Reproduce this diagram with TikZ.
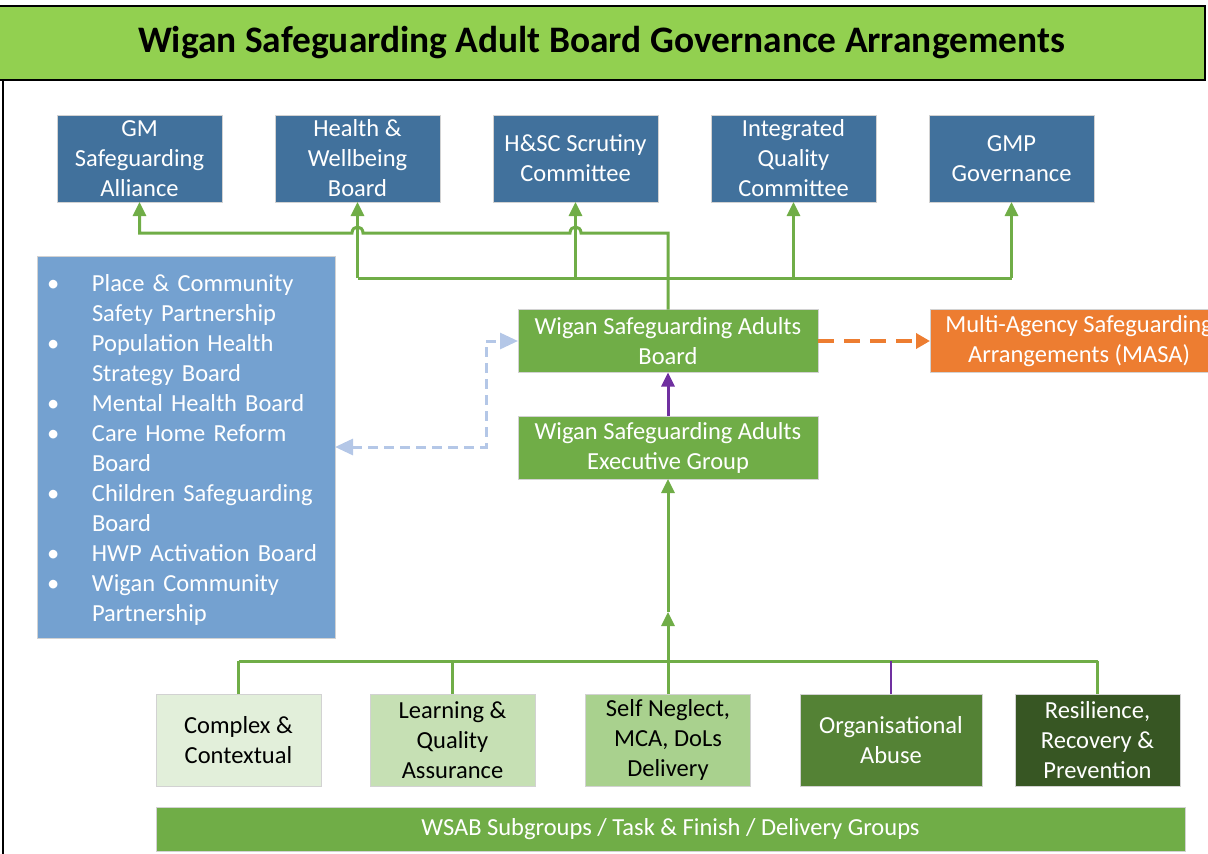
\documentclass[tikz,border=0pt]{standalone}
\usepackage{fontspec}
\setmainfont{Carlito}
\usetikzlibrary{positioning,arrows.meta}
\definecolor{titlegreen}{HTML}{92D050}
\definecolor{govblue}{HTML}{41719C}
\definecolor{listblue}{HTML}{74A1D0}
\definecolor{govgreen}{HTML}{70AD47}
\definecolor{govorange}{HTML}{ED7D31}
\definecolor{govpurple}{HTML}{7030A0}
\definecolor{linkblue}{HTML}{B4C7E7}
\definecolor{subA}{HTML}{E2EFDA}
\definecolor{subB}{HTML}{C6E0B4}
\definecolor{subC}{HTML}{A9D18E}
\definecolor{subD}{HTML}{548235}
\definecolor{subE}{HTML}{375623}
\tikzset{
    govtitle/.style={draw=black, line width=2.5pt, fill=titlegreen, minimum width=1207pt, minimum height=74pt, inner sep=0pt, font=\fontsize{37.4}{44}\selectfont\bfseries},
    govbox/.style={draw=gray!35, line width=0.8pt, align=center, inner sep=0pt, outer sep=0pt, font=\fontsize{24.5}{30}\selectfont},
    govtop/.style={govbox, fill=govblue, text=white, minimum width=165pt, minimum height=87pt},
    govboard/.style={govbox, fill=govgreen, text=white, minimum width=300pt, minimum height=63pt},
    govmasa/.style={govbox, fill=govorange, text=white, minimum width=298pt, minimum height=63pt},
    govlist/.style={govbox, fill=listblue, text=white, align=left, text width=278pt, inner xsep=10pt, minimum height=382pt},
    govsub/.style={govbox, minimum width=165pt, minimum height=92pt},
    govbar/.style={govbox, fill=govgreen, text=white, minimum width=1029pt, minimum height=44pt},
    govline/.style={draw=govgreen, line width=3pt},
    govarrow/.style={govline, -{Triangle[length=14pt,width=13pt]}},
    govup/.style={draw=govpurple, line width=3pt, -{Triangle[length=14pt,width=13pt]}},
    govlink/.style={draw=linkblue, line width=3pt, dash pattern=on 10pt off 6pt, {Triangle[length=18pt,width=16pt]}-{Triangle[length=18pt,width=16pt]}},
    govdash/.style={draw=govorange, line width=4pt, dash pattern=on 16pt off 10pt, -{Triangle[length=14pt,width=15pt]}}
}

\begin{document}
\begin{tikzpicture}[x=1pt, y=-1pt]
    \clip (0,0) rectangle (1208,854);

    \node[govtitle] (title) at (601.5,43) {Wigan Safeguarding Adult Board Governance Arrangements};
    \draw[line width=1.5pt] (3,80) -- (3,856);

    % bodies the board reports to
    \node[govtop] (gm) at (139.5,158.5) {GM\\Safeguarding\\Alliance};
    \node[govtop, right=53pt of gm] (hwb) {Health \&\\Wellbeing\\Board};
    \node[govtop, right=53pt of hwb] (hsc) {H\&SC Scrutiny\\Committee};
    \node[govtop, right=53pt of hsc] (iqc) {Integrated\\Quality\\Committee};
    \node[govtop, right=53pt of iqc] (gmp) {GMP\\Governance};

    \node[govlist] (list) at (186,447) {%
        \vspace*{6pt}
        \begin{tabular}{@{}p{45pt}@{}l@{}}
            \textbullet & Place \& Community\\
                        & Safety Partnership\\
            \textbullet & Population Health\\
                        & Strategy Board\\
            \textbullet & Mental Health Board\\
            \textbullet & Care Home Reform\\
                        & Board\\
            \textbullet & Children Safeguarding\\
                        & Board\\
            \textbullet & HWP Activation Board\\
            \textbullet & Wigan Community\\
                        & Partnership
        \end{tabular}};

    \node[govboard] (wsab) at (668,341) {Wigan Safeguarding Adults\\Board};
    \node[govboard] (exec) at (668,447.5) {Wigan Safeguarding Adults\\Executive Group};
    \node[govmasa] (masa) at (1079,341) {Multi-Agency Safeguarding\\Arrangements (MASA)};

    % subgroups
    \node[govsub, fill=subA] (cc) at (238.5,740) {Complex \&\\Contextual};
    \node[govsub, fill=subB] (lqa) at (452.5,740) {Learning \&\\Quality\\Assurance};
    \node[govsub, fill=subC] (snd) at (668,740) {Self Neglect,\\MCA, DoLs\\Delivery};
    \node[govsub, fill=subD, text=white, minimum width=182pt] (oa) at (891,740) {Organisational\\Abuse};
    \node[govsub, fill=subE, text=white] (rrp) at (1097.5,740) {Resilience,\\Recovery \&\\Prevention};
    \node[govbar] (bar) at (670.5,829) {WSAB Subgroups / Task \& Finish / Delivery Groups};

    \coordinate (lowbus) at (0,278);
    \coordinate (subbus) at (0,661);
    \coordinate (mid) at (668,612);

    % reporting lines, with hops over the lower bus
    \draw[govarrow] (wsab.north) -- (668,233) -- (581,233) .. controls (581,225) and (570,225) .. (570,233)
        -- (363,233) .. controls (363,225) and (352,225) .. (352,233) -- (gm.south |- 0,233) -- (gm.south);
    \draw[govline] (hwb.south |- lowbus) -- (gmp.south |- lowbus);
    \foreach \n in {hwb,hsc,iqc,gmp}
        \draw[govarrow] (\n.south |- lowbus) -- (\n.south);

    \draw[govup] (exec.north) -- (wsab.south);
    \draw[govlink] (list.east) -- ++(151,0) |- (wsab.west);
    \draw[govdash] (wsab.east) -- (masa.west);

    \draw[govline] (cc.north |- subbus) -- (rrp.north |- subbus);
    \foreach \n in {cc,lqa,rrp}
        \draw[govline] (\n.north) -- (\n.north |- subbus);
    \draw[draw=govpurple, line width=2pt] (oa.north) -- (oa.north |- subbus);
    \draw[govarrow] (snd.north) -- (mid);
    \draw[govarrow] (mid) -- (exec.south);
\end{tikzpicture}
\end{document}
